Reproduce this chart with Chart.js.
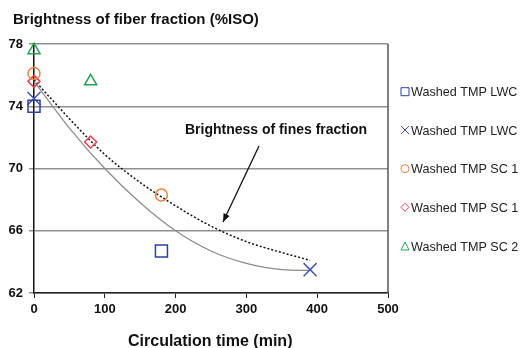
<!DOCTYPE html>
<html>
<head>
<meta charset="utf-8">
<script src="https://cdn.jsdelivr.net/npm/chart.js@4/dist/chart.umd.min.js"></script>
<style>
  html, body { margin: 0; padding: 0; background: #fff; }
  #wrap { width: 521px; height: 348px; position: relative; }
</style>
</head>
<body>
<div id="wrap"><canvas id="c" width="521" height="348"></canvas></div>
<script>
// ---- data ----
const seriesNames = ["Washed TMP LWC", "Washed TMP LWC", "Washed TMP SC 1", "Washed TMP SC 1", "Washed TMP SC 2"];
const lwcSquareX = [0, 180];
const lwcSquareY = [74.0, 64.7];
const lwcCrossX = [0, 390];
const lwcCrossY = [74.5, 63.5];
const sc1CircleX = [0, 180];
const sc1CircleY = [76.1, 68.3];
const sc1DiamondX = [0, 80];
const sc1DiamondY = [75.6, 71.7];
const sc2TriangleX = [0, 80];
const sc2TriangleY = [77.6, 75.6];
// fiber-fraction trend (solid grey) and fines-fraction trend (dotted black)
const curveX = [0, 50, 100, 150, 200, 250, 300, 350, 390];
const fiberCurveY = [75.6, 72.6, 70.0, 67.8, 66.0, 64.7, 63.9, 63.5, 63.45];
const finesCurveY = [75.7, 73.2, 70.9, 69.1, 67.6, 66.3, 65.3, 64.6, 64.1];
const xTicks = [0, 100, 200, 300, 400, 500];
const yTicks = [62, 66, 70, 74, 78];
const chartTitle = "Brightness of fiber fraction (%ISO)";
const xTitle = "Circulation time (min)";
const annotationText = "Brightness of fines fraction";

const colors = ["#2f3f9c", "#4354b4", "#f08040", "#e8404a", "#22a055"];
const styles = ["rect", "crossRot", "circle", "rectRot", "triangle"];
const radii = [8.5, 9.2, 6, 6, 7];

function pts(xs, ys) { return xs.map((x, i) => ({ x: x, y: ys[i] })); }

const markerSets = [
  pts(lwcSquareX, lwcSquareY),
  pts(lwcCrossX, lwcCrossY),
  pts(sc1CircleX, sc1CircleY),
  pts(sc1DiamondX, sc1DiamondY),
  pts(sc2TriangleX, sc2TriangleY)
];

const datasets = [
  {
    label: "fiber trend", data: pts(curveX, fiberCurveY), showLine: true, clip: false,
    borderColor: "#8a8a8a", borderWidth: 1.2, pointRadius: 0, cubicInterpolationMode: "monotone", order: 10
  },
  {
    label: "fines trend", data: pts(curveX, finesCurveY), showLine: true, clip: false,
    borderColor: "#111", borderWidth: 1.5, borderDash: [2, 2], pointRadius: 0, cubicInterpolationMode: "monotone", order: 9
  }
];
markerSets.forEach((d, i) => {
  datasets.push({
    label: seriesNames[i], data: d, showLine: false, clip: false,
    pointStyle: styles[i], pointRadius: radii[i], pointBorderColor: colors[i],
    pointBackgroundColor: "rgba(0,0,0,0)", pointBorderWidth: 1.5, order: i
  });
});

function drawLegendMarker(ctx, style, x, y, color) {
  ctx.save();
  ctx.strokeStyle = color; ctx.lineWidth = 1; ctx.beginPath();
  const h = 4;
  if (style === "rect") { ctx.rect(x - h, y - h, 2 * h, 2 * h); }
  else if (style === "crossRot") { ctx.moveTo(x - h, y - h); ctx.lineTo(x + h, y + h); ctx.moveTo(x + h, y - h); ctx.lineTo(x - h, y + h); }
  else if (style === "circle") { ctx.arc(x, y, h, 0, Math.PI * 2); }
  else if (style === "rectRot") { ctx.moveTo(x, y - h); ctx.lineTo(x + h, y); ctx.lineTo(x, y + h); ctx.lineTo(x - h, y); ctx.closePath(); }
  else if (style === "triangle") { ctx.moveTo(x, y - h); ctx.lineTo(x + h, y + h); ctx.lineTo(x - h, y + h); ctx.closePath(); }
  ctx.stroke();
  ctx.restore();
}

const decor = {
  id: "decor",
  afterDraw(chart) {
    const ctx = chart.ctx, a = chart.chartArea;
    ctx.save();
    // right border of plot
    ctx.strokeStyle = "#555"; ctx.lineWidth = 1.5;
    ctx.beginPath(); ctx.moveTo(a.right, a.top); ctx.lineTo(a.right, a.bottom); ctx.stroke();
    // titles
    ctx.fillStyle = "#111"; ctx.textBaseline = "alphabetic"; ctx.textAlign = "left";
    ctx.font = "bold 15px 'Liberation Sans', Arial, sans-serif";
    ctx.fillText(chartTitle, 13, 24);
    ctx.font = "bold 16px 'Liberation Sans', Arial, sans-serif";
    ctx.fillText(xTitle, 128, 346);
    // annotation
    ctx.font = "bold 14px 'Liberation Sans', Arial, sans-serif";
    ctx.fillText(annotationText, 185, 134);
    // arrow
    const x0 = 259, y0 = 146, x1 = 223, y1 = 222;
    ctx.strokeStyle = "#111"; ctx.lineWidth = 1.3;
    ctx.beginPath(); ctx.moveTo(x0, y0); ctx.lineTo(x1, y1); ctx.stroke();
    const ang = Math.atan2(y1 - y0, x1 - x0), L = 9, W = 0.38;
    ctx.fillStyle = "#111"; ctx.beginPath();
    ctx.moveTo(x1, y1);
    ctx.lineTo(x1 - L * Math.cos(ang - W), y1 - L * Math.sin(ang - W));
    ctx.lineTo(x1 - L * Math.cos(ang + W), y1 - L * Math.sin(ang + W));
    ctx.closePath(); ctx.fill();
    // legend
    const ly = [91.7, 130, 168.7, 207.3, 246];
    ctx.font = "12.6px 'Liberation Sans', Arial, sans-serif";
    seriesNames.forEach((n, i) => {
      drawLegendMarker(ctx, styles[i], 405, ly[i], colors[i]);
      ctx.fillStyle = "#222";
      ctx.fillText(n, 411, ly[i] + 4.6);
    });
    ctx.restore();
  }
};

new Chart(document.getElementById("c"), {
  type: "scatter",
  data: { datasets: datasets },
  options: {
    responsive: false, animation: false, devicePixelRatio: 1,
    layout: { padding: { top: 44, right: 133, left: 0, bottom: 0 } },
    plugins: { legend: { display: false }, tooltip: { enabled: false }, title: { display: false } },
    scales: {
      x: {
        type: "linear", min: xTicks[0], max: xTicks[xTicks.length - 1],
        afterFit(s) { s.height = 55; },
        afterBuildTicks(s) { s.ticks = xTicks.map(v => ({ value: v })); },
        grid: { drawOnChartArea: false, drawTicks: true, tickLength: 5, color: "#222", lineWidth: 1 },
        border: { color: "#222", width: 1.5 },
        ticks: { padding: 4, color: "#111", font: { family: "'Liberation Sans', Arial, sans-serif", size: 13, weight: "bold" } }
      },
      y: {
        type: "linear", min: yTicks[0], max: yTicks[yTicks.length - 1],
        afterFit(s) { s.width = 34; },
        afterBuildTicks(s) { s.ticks = yTicks.map(v => ({ value: v })); },
        grid: { drawTicks: true, tickLength: 5, color: "#909090", lineWidth: 1.5 },
        border: { color: "#111", width: 1.5 },
        ticks: { padding: 6, color: "#111", font: { family: "'Liberation Sans', Arial, sans-serif", size: 13, weight: "bold" } }
      }
    }
  },
  plugins: [decor]
});
</script>
</body>
</html>
